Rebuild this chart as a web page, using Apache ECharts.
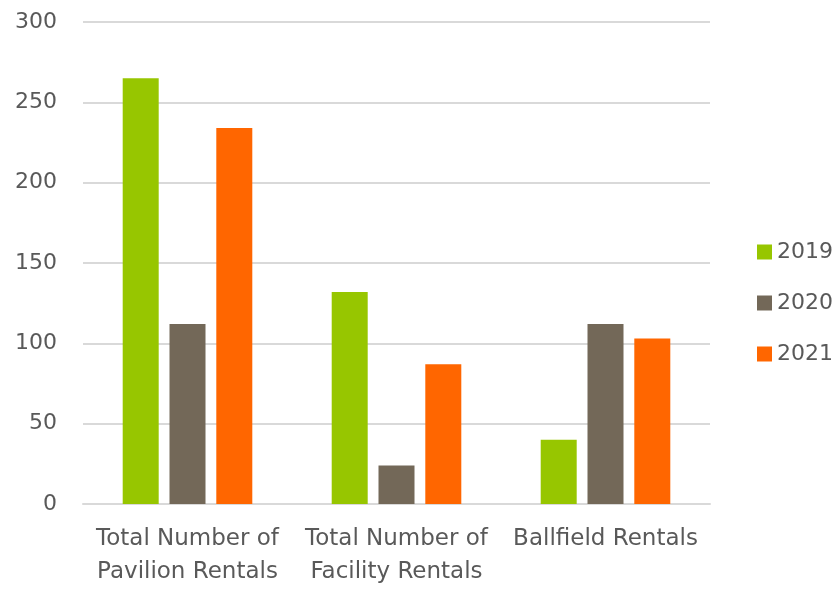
<!DOCTYPE html>
<html>
<head>
<meta charset="utf-8">
<script src="https://cdn.jsdelivr.net/npm/echarts@6/dist/echarts.min.js"></script>
<style>
  html, body { margin: 0; padding: 0; background: #fff; }
  #chart { width: 838px; height: 589px; }
</style>
</head>
<body>
<div id="chart"></div>
<script>
// 数据
const categories = ["Total Number of\nPavilion Rentals", "Total Number of\nFacility Rentals", "Ballfield Rentals"];
const years = ["2019", "2020", "2021"];
const values2019 = [265, 132, 40];
const values2020 = [112, 24, 112];
const values2021 = [234, 87, 103];
const colors = ["#97C600", "#736858", "#FF6600"];

const textColor = "#595959";
const font = "'DejaVu Sans', sans-serif";

const seriesData = [values2019, values2020, values2021];

const option = {
  animation: false,
  color: colors,
  grid: { left: 83, right: 128, top: 22, bottom: 80, containLabel: false },
  legend: {
    orient: "vertical",
    left: 752,
    top: 236,
    itemWidth: 15,
    itemHeight: 15,
    itemGap: 29,
    icon: "rect",
    data: years,
    textStyle: { color: textColor, fontSize: 22, fontFamily: font }
  },
  xAxis: {
    type: "category",
    data: categories,
    axisLine: { show: true, lineStyle: { color: "#d9d9d9", width: 2 } },
    axisTick: { show: false },
    axisLabel: {
      interval: 0,
      color: textColor,
      fontSize: 23,
      fontFamily: font,
      lineHeight: 33,
      margin: 19
    }
  },
  yAxis: {
    type: "value",
    min: 0,
    max: 300,
    interval: 50,
    axisLine: { show: false },
    axisTick: { show: false },
    splitLine: { lineStyle: { color: "#d9d9d9", width: 2 } },
    axisLabel: { color: textColor, fontSize: 22, fontFamily: font, margin: 26 }
  },
  series: years.map((y, i) => ({
    name: y,
    type: "bar",
    data: seriesData[i],
    barWidth: 36,
    barGap: "30%"
  }))
};

const myChart = echarts.init(document.getElementById("chart"));
myChart.setOption(option);
</script>
</body>
</html>
